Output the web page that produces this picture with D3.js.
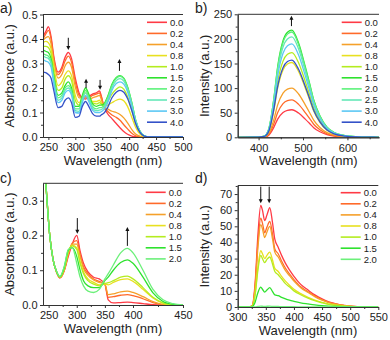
<!DOCTYPE html>
<html>
<head>
<meta charset="utf-8">
<script src="https://cdn.jsdelivr.net/npm/d3@7"></script>
<style>
body { margin: 0; background: #fff; }
svg text { font-family: "Liberation Sans", Arial, sans-serif; fill: #222; }
</style>
</head>
<body>
<svg id="chart" width="390" height="340"></svg>
<script>
// concentrations in the legends
var keysAB = ["0.0", "0.2", "0.4", "0.8", "1.0", "1.5", "2.0", "2.5", "3.0", "4.0"];
var keysCD = ["0.0", "0.2", "0.4", "0.8", "1.0", "1.5", "2.0"];
var colorsAB = ["#ff3a45", "#ff6a2a", "#f5a02a", "#e8e020", "#b4ec20", "#2ee22e", "#5cf27a", "#66e8b8", "#5cc8f4", "#3452c8"];
var colorsCD = ["#ff3a45", "#ff6a2a", "#f5a02a", "#e8e020", "#b4ec20", "#2ee22e", "#6cf07a"];

// a) absorbance
var aWl = [240,245,250,255,260,268,275,281,287,293,300,307,313,319,325,332,339,345,348,353,360,368,376,383,390,397,405,412,420,428,440,470,500];
var aAbs = [
  [0.41,0.43,0.45,0.41,0.33,0.265,0.285,0.325,0.345,0.32,0.24,0.18,0.16,0.155,0.165,0.175,0.18,0.188,0.17,0.125,0.095,0.075,0.055,0.038,0.022,0.011,0.004,0.001,0,0,0,0,0],
  [0.40,0.42,0.435,0.40,0.32,0.255,0.275,0.31,0.33,0.305,0.225,0.17,0.16,0.16,0.16,0.17,0.175,0.18,0.165,0.125,0.105,0.09,0.08,0.068,0.05,0.033,0.015,0.005,0.001,0,0,0,0],
  [0.395,0.405,0.41,0.38,0.31,0.24,0.255,0.29,0.305,0.285,0.205,0.16,0.16,0.165,0.155,0.16,0.165,0.17,0.155,0.125,0.115,0.105,0.1,0.092,0.078,0.058,0.03,0.012,0.003,0,0,0,0],
  [0.385,0.39,0.385,0.36,0.29,0.21,0.225,0.255,0.27,0.25,0.17,0.14,0.16,0.18,0.165,0.145,0.145,0.15,0.14,0.125,0.13,0.14,0.15,0.155,0.148,0.125,0.08,0.04,0.012,0.003,0,0,0],
  [0.37,0.37,0.365,0.34,0.27,0.19,0.2,0.235,0.25,0.23,0.15,0.13,0.165,0.19,0.17,0.14,0.135,0.14,0.135,0.13,0.145,0.175,0.195,0.205,0.195,0.165,0.11,0.055,0.018,0.004,0,0,0],
  [0.355,0.35,0.345,0.32,0.25,0.17,0.18,0.21,0.225,0.2,0.125,0.125,0.17,0.2,0.175,0.135,0.125,0.13,0.13,0.135,0.165,0.215,0.243,0.25,0.24,0.205,0.14,0.07,0.024,0.005,0,0,0],
  [0.34,0.335,0.33,0.31,0.24,0.16,0.17,0.2,0.21,0.19,0.115,0.115,0.16,0.19,0.165,0.125,0.115,0.12,0.12,0.128,0.16,0.21,0.24,0.248,0.238,0.203,0.138,0.07,0.024,0.005,0,0,0],
  [0.33,0.325,0.32,0.30,0.23,0.15,0.16,0.19,0.2,0.18,0.108,0.105,0.15,0.18,0.155,0.118,0.108,0.11,0.112,0.12,0.15,0.2,0.23,0.238,0.228,0.195,0.132,0.067,0.023,0.005,0,0,0],
  [0.315,0.31,0.305,0.285,0.22,0.14,0.15,0.18,0.19,0.17,0.1,0.098,0.14,0.17,0.145,0.11,0.1,0.1,0.103,0.112,0.14,0.19,0.218,0.225,0.216,0.185,0.125,0.064,0.022,0.005,0,0,0],
  [0.265,0.263,0.255,0.24,0.19,0.12,0.125,0.15,0.16,0.14,0.08,0.085,0.125,0.145,0.125,0.095,0.085,0.085,0.09,0.097,0.12,0.16,0.183,0.19,0.183,0.157,0.107,0.055,0.019,0.004,0,0,0]
];
var aArrows = [[287, 0.405, 0.355], [320, 0.2, 0.238], [346, 0.233, 0.193], [382, 0.27, 0.318]];

// b) emission
var bWl = [353,400,410,416,424,434,443,455,465,475,490,505,515,524,538,554,570,595,620,650,671];
var bInt = [
  [0,0.1,0.45,1.1,5.3,19.6,37,50.4,54.9,56,49.3,37,28,19.6,11.2,5.3,2.5,0.9,0.3,0.06,0],
  [0,0.15,0.6,1.5,7.1,26.6,50.2,68.4,74.5,76,66.9,50.2,38,26.6,15.2,7.1,3.4,1.2,0.4,0.08,0],
  [0,0.2,0.8,2,9.4,35,66,90,98,100,88,66,50,35,20,9.4,4.5,1.6,0.5,0.1,0],
  [0,0.3,1.2,3,14.3,53.2,100.3,136.8,149,152,133.8,100.3,76,53.2,30.4,14.3,6.8,2.4,0.8,0.15,0],
  [0,0.34,1.4,3.4,16.2,60.2,113.5,154.8,168.6,172,151.4,113.5,86,60.2,34.4,16.2,7.7,2.8,0.9,0.17,0],
  [0,0.44,1.7,4.4,20.5,76.3,143.9,196.2,213.6,218,191.8,143.9,109,76.3,43.6,20.5,9.8,3.5,1.1,0.2,0],
  [0,0.43,1.7,4.3,20.1,74.9,141.2,192.6,209.7,214,188.3,141.2,107,74.9,42.8,20.1,9.6,3.4,1.1,0.2,0],
  [0,0.41,1.6,4.1,19.2,71.4,134.6,183.6,199.9,204,179.5,134.6,102,71.4,40.8,19.2,9.2,3.3,1,0.2,0],
  [0,0.38,1.5,3.8,17.9,66.5,125.4,171,186.2,190,167.2,125.4,95,66.5,38,17.9,8.6,3,1,0.19,0],
  [0,0.31,1.3,3.1,14.8,55,103.6,141.3,153.9,157,138.2,103.6,78.5,55,31.4,14.8,7.1,2.5,0.8,0.16,0]
];
var bArrows = [[474, 226, 247]];

// c) absorbance
var cWl = [240,245,252,258,264,270,278,285,292,300,306,312,320,330,340,350,356,365,378,390,400,410,420,430,440,450];
var cAbs = [
  [0.46,0.35,0.2,0.13,0.095,0.078,0.1,0.14,0.175,0.2,0.155,0.12,0.095,0.08,0.075,0.06,0.015,0.006,0.007,0.008,0.007,0.004,0.001,0,0,0],
  [0.46,0.35,0.2,0.13,0.095,0.078,0.1,0.145,0.178,0.185,0.145,0.11,0.09,0.075,0.068,0.06,0.022,0.024,0.028,0.03,0.027,0.018,0.007,0.001,0,0],
  [0.46,0.35,0.2,0.13,0.095,0.079,0.102,0.148,0.175,0.175,0.14,0.105,0.085,0.072,0.065,0.06,0.03,0.032,0.038,0.04,0.036,0.024,0.01,0.002,0,0],
  [0.46,0.35,0.2,0.13,0.096,0.08,0.105,0.152,0.172,0.165,0.125,0.095,0.075,0.065,0.058,0.06,0.058,0.065,0.073,0.075,0.068,0.045,0.02,0.005,0,0],
  [0.46,0.35,0.2,0.13,0.096,0.08,0.106,0.154,0.17,0.16,0.12,0.09,0.07,0.06,0.055,0.062,0.064,0.07,0.08,0.083,0.075,0.05,0.022,0.006,0,0],
  [0.46,0.35,0.2,0.13,0.097,0.081,0.11,0.158,0.165,0.14,0.1,0.07,0.055,0.05,0.05,0.07,0.08,0.1,0.122,0.13,0.12,0.08,0.035,0.01,0.002,0],
  [0.46,0.35,0.2,0.13,0.097,0.082,0.112,0.16,0.165,0.12,0.08,0.055,0.04,0.036,0.045,0.075,0.09,0.115,0.15,0.163,0.15,0.1,0.045,0.015,0.004,0]
];
var cArrows = [[301, 0.25, 0.205], [390, 0.17, 0.224]];

// d) emission
var dWl = [300,320,326,331,336,341,344,348,352,357,362,366,372,378,385,392,400,412,425,437,450,462,475,490,505,520,550];
var dInt = [
  [0,0,1,15,45,63,60,53.5,57,61.5,52,42,37,32,27,23,19,14,10.5,7.5,5,3.2,2,1,0.4,0.1,0],
  [0,0,0.8,13,40,55,52,46,49.5,53,45,36,33,28.5,24,20.5,17,12.5,9.5,6.8,4.5,2.9,1.8,0.9,0.35,0.1,0],
  [0,0,0.8,12,37,51,48.5,43,46.5,50,42,34,31,27,22.5,19.5,16,12,9,6.4,4.2,2.7,1.7,0.85,0.3,0.1,0],
  [0,0,0.5,8,25,35,33,30,32,34,29,24,22,19,16,13.5,11,8.3,6,4.3,2.8,1.8,1.1,0.55,0.2,0.05,0],
  [0,0,0.5,7.5,23,32,30,27.5,29.5,31,26.5,22,20,17.5,14.5,12.5,10,7.6,5.5,3.9,2.6,1.6,1,0.5,0.2,0.05,0],
  [0,0,0.2,3,9,12.3,11,9.2,10.5,12,9.5,7.5,7,6,5,4.2,3.5,2.6,1.9,1.3,0.8,0.5,0.3,0.15,0.05,0,0],
  [0,0,0,0.1,0.3,0.5,0.45,0.4,0.45,0.5,0.4,0.35,0.3,0.25,0.2,0.18,0.15,0.1,0.08,0.05,0.03,0.02,0.01,0,0,0,0]
];
var dArrows = [[341, 74.6, 64.3], [356, 74.6, 64.3]];

var svg = d3.select("#chart");
var fmt1 = d3.format(".1f");

var panels = [
  { id: "a", letter: "a)", lx: 0, ly: 13, wl: aWl, series: aAbs, keys: keysAB, colors: colorsAB, arrows: aArrows,
    x: d3.scaleLinear().domain([240, 500]).range([43, 183]),
    y: d3.scaleLinear().domain([0, 0.5]).range([137, 14.5]),
    xTicks: [250, 300, 350, 400, 450, 500], xMinor: [275, 325, 375, 425, 475],
    yTicks: [0, 0.1, 0.2, 0.3, 0.4, 0.5], yMinor: [0.05, 0.15, 0.25, 0.35, 0.45], yFmt: fmt1,
    ylab: "Absorbance (a.u.)", legX: 147, legY: 22.3 },
  { id: "b", letter: "b)", lx: 195, ly: 13, wl: bWl, series: bInt, keys: keysAB, colors: colorsAB, arrows: bArrows,
    x: d3.scaleLinear().domain([353, 671]).range([237.7, 379]),
    y: d3.scaleLinear().domain([0, 250]).range([137.3, 14.3]),
    xTicks: [400, 500, 600], xMinor: [450, 550, 650],
    yTicks: [0, 50, 100, 150, 200, 250], yMinor: [25, 75, 125, 175, 225], yFmt: d3.format("d"),
    ylab: "Intensity (a.u.)", legX: 341.7, legY: 22.3 },
  { id: "c", letter: "c)", lx: 0, ly: 183, wl: cWl, series: cAbs, keys: keysCD, colors: colorsCD, arrows: cArrows,
    x: d3.scaleLinear().domain([240, 400, 450]).range([43, 133, 183]),
    y: d3.scaleLinear().domain([0, 0.35]).range([305, 183.3]),
    xTicks: [250, 300, 350, 400, 450], xMinor: [275, 325, 375, 425],
    yTicks: [0, 0.1, 0.2, 0.3], yMinor: [0.05, 0.15, 0.25], yFmt: fmt1,
    ylab: "Absorbance (a.u.)", legX: 145.7, legY: 192.3 },
  { id: "d", letter: "d)", lx: 195, ly: 183, wl: dWl, series: dInt, keys: keysCD, colors: colorsCD, arrows: dArrows,
    x: d3.scaleLinear().domain([300, 550]).range([237.7, 378.3]),
    y: d3.scaleLinear().domain([0, 75.3]).range([307, 185.5]),
    xTicks: [300, 350, 400, 450, 500, 550], xMinor: [325, 375, 425, 475, 525],
    yTicks: [0, 10, 20, 30, 40, 50, 60, 70], yMinor: [5, 15, 25, 35, 45, 55, 65, 75], yFmt: d3.format("d"),
    ylab: "Intensity (a.u.)", legX: 340.7, legY: 192.7 }
];

panels.forEach(function(p) {
  var g = svg.append("g");
  var x0 = p.x.range()[0], x1 = p.x.range()[p.x.range().length - 1];
  var yb = p.y.range()[0], yt = p.y.range()[1];

  g.append("clipPath").attr("id", "clip-" + p.id)
    .append("rect").attr("x", x0).attr("y", yt).attr("width", x1 - x0).attr("height", yb - yt);

  // curves
  var line = d3.line()
    .x(function(d, i) { return p.x(p.wl[i]); })
    .y(function(d) { return p.y(d); })
    .curve(d3.curveMonotoneX);

  g.append("g").attr("clip-path", "url(#clip-" + p.id + ")")
    .selectAll("path")
    .data(p.series)
    .enter().append("path")
      .attr("d", line)
      .attr("fill", "none")
      .attr("stroke", function(d, i) { return p.colors[i]; })
      .attr("stroke-width", 1.3);

  // axes
  var xAx = g.append("g").attr("transform", "translate(0," + yb + ")")
    .call(d3.axisBottom(p.x).tickValues(p.xTicks).tickSize(3).tickPadding(3.5).tickSizeOuter(0));
  g.append("g").attr("transform", "translate(0," + yb + ")")
    .call(d3.axisBottom(p.x).tickValues(p.xMinor).tickSize(2).tickFormat("").tickSizeOuter(0));
  var yAx = g.append("g").attr("transform", "translate(" + x0 + ",0)")
    .call(d3.axisLeft(p.y).tickValues(p.yTicks).tickFormat(p.yFmt).tickSize(3).tickPadding(2.5).tickSizeOuter(0));
  g.append("g").attr("transform", "translate(" + x0 + ",0)")
    .call(d3.axisLeft(p.y).tickValues(p.yMinor).tickSize(2).tickFormat("").tickSizeOuter(0));

  g.append("line").attr("x1", x0).attr("x2", x1).attr("y1", yt).attr("y2", yt)
    .attr("stroke", "#333").attr("stroke-width", 1);

  g.selectAll(".domain").attr("stroke", "#333");
  g.selectAll(".tick line").attr("stroke", "#333");
  g.selectAll(".tick text").style("font-size", "11px").attr("fill", "#222");

  // axis titles
  g.append("text")
    .attr("x", (x0 + x1) / 2).attr("y", yb + 28)
    .attr("text-anchor", "middle").style("font-size", "13px")
    .text("Wavelength (nm)");
  g.append("text")
    .attr("transform", "translate(" + (x0 - 29) + "," + ((yb + yt) / 2) + ") rotate(-90)")
    .attr("text-anchor", "middle").style("font-size", "13px")
    .text(p.ylab);

  // panel letter
  g.append("text").attr("x", p.lx).attr("y", p.ly)
    .style("font-size", "14px").text(p.letter);

  // arrows
  p.arrows.forEach(function(a) {
    var ax = p.x(a[0]), ys = p.y(a[1]), ye = p.y(a[2]);
    var dir = ye > ys ? 1 : -1;
    g.append("line").attr("x1", ax).attr("x2", ax).attr("y1", ys).attr("y2", ye - dir * 3)
      .attr("stroke", "#111").attr("stroke-width", 1);
    g.append("path")
      .attr("d", "M" + (ax - 2) + "," + (ye - dir * 4) + "L" + (ax + 2) + "," + (ye - dir * 4) + "L" + ax + "," + ye + "Z")
      .attr("fill", "#111");
  });

  // legend
  var leg = g.append("g");
  p.keys.forEach(function(k, i) {
    var ly = p.legY + i * 11.1;
    leg.append("line").attr("x1", p.legX).attr("x2", p.legX + 20).attr("y1", ly).attr("y2", ly)
      .attr("stroke", p.colors[i]).attr("stroke-width", 1.6);
    leg.append("text").attr("x", p.legX + 23).attr("y", ly).attr("dy", "0.35em")
      .style("font-size", "9.5px").text(k);
  });
});
</script>
</body>
</html>
